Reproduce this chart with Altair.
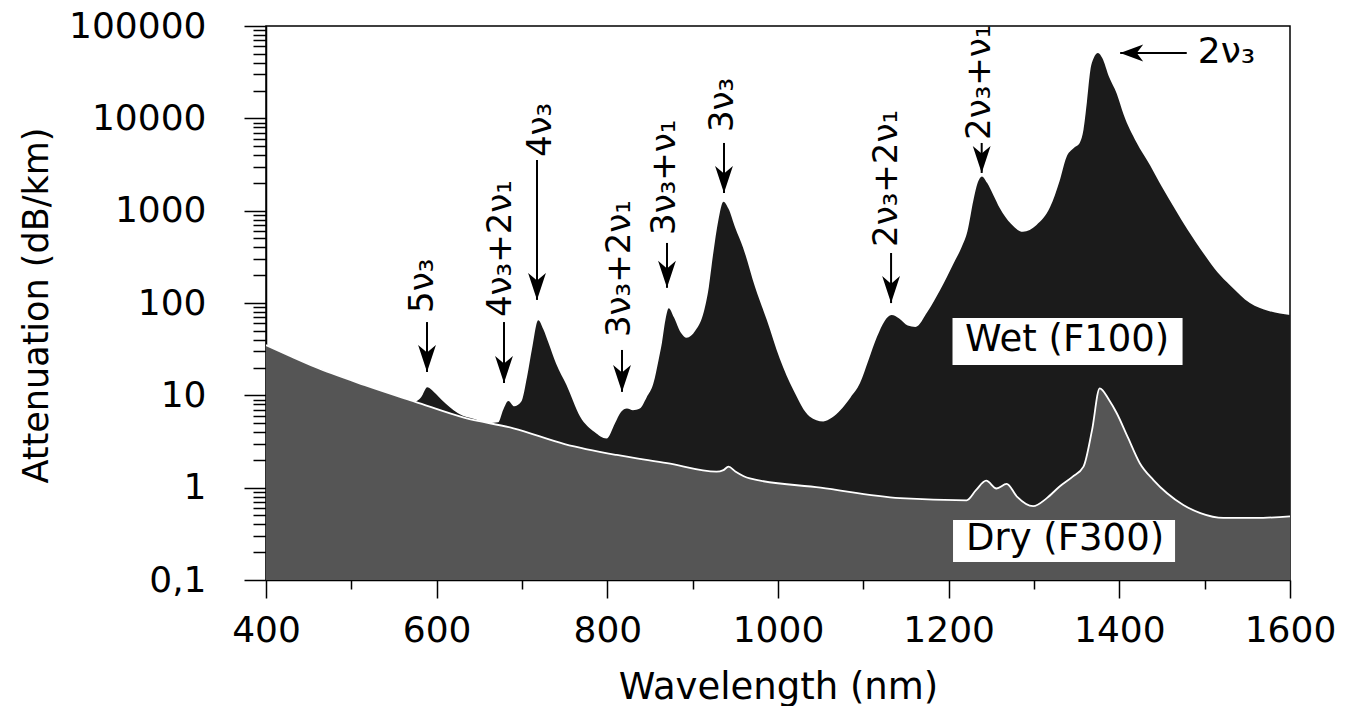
import altair as alt
import pandas as pd

# ---------------- data ----------------
# Dry fibre (F300): wavelength (nm) and attenuation (dB/km)
dry_wl = [400, 430, 457, 516, 575, 633, 690, 750, 811, 870, 928, 936, 942, 950, 967,
          1050, 1143, 1221, 1232, 1244, 1256, 1268, 1280, 1299, 1315, 1330, 1345, 1358,
          1368, 1377, 1388, 1397, 1410, 1424, 1440, 1456, 1475, 1495, 1522, 1560, 1600]
dry_val = [35, 26.2, 20.4, 12.9, 8.5, 5.7, 4.4, 2.97, 2.26, 1.84, 1.49, 1.55, 1.69, 1.5, 1.26,
           1.0, 0.77, 0.73, 0.94, 1.19, 0.98, 1.10, 0.80, 0.63, 0.77, 1.03, 1.31, 1.69,
           4.2, 11.9, 8.9, 6.4, 3.5, 1.84, 1.21, 0.87, 0.65, 0.53, 0.47, 0.47, 0.49]

# Wet fibre (F100)
wet_wl = [400, 457, 516, 575, 582, 589, 597, 606, 625, 645, 662, 672, 678, 684, 691, 699,
          706, 712, 719, 725, 731, 740, 752, 768, 785, 799, 809, 816, 823, 830, 838, 846,
          854, 860, 864, 868, 872, 878, 886, 893, 903, 913, 919, 924, 930, 936, 942, 950,
          959, 973, 987, 1002, 1018, 1037, 1053, 1063, 1073, 1085, 1096, 1106, 1116, 1125,
          1133, 1142, 1152, 1161, 1175, 1190, 1205, 1215, 1222, 1229, 1234, 1239, 1245,
          1252, 1260, 1273, 1287, 1303, 1319, 1330, 1338, 1346, 1354, 1358, 1362, 1366,
          1370, 1375, 1380, 1388, 1397, 1405, 1420, 1436, 1450, 1465, 1480, 1500, 1515,
          1530, 1553, 1575, 1600]
wet_val = [35, 20.4, 12.9, 8.6, 9.6, 12.2, 10.8, 8.9, 6.4, 5.5, 5.0, 5.1, 7.0, 8.7, 7.6, 8.5,
           16, 33, 65, 52, 37, 22, 13, 5.9, 4.0, 3.4, 5.0, 6.6, 7.2, 6.9, 7.2, 9.5,
           13.5, 24, 37, 65, 88, 70, 48, 42, 50, 80, 150, 340, 780, 1250, 1050, 650,
           400, 150, 65, 25, 11.4, 5.9, 5.2, 5.7, 6.9, 9.5, 13.5, 24, 43, 64,
           74, 68, 57, 55, 80, 138, 260, 400, 600, 1300, 2000, 2350, 2000,
           1500, 1060, 720, 590, 700, 1100, 2100, 3800, 4700, 5500, 7500, 15000, 33000,
           45000, 51000, 45000, 28000, 18500, 11000, 5500, 3100, 1800, 1050, 620, 330, 215,
           155, 100, 82, 74]

# Vertical band annotations (rotated text + downward arrow)
ann_labels = ["5ν₃", "4ν₃+2ν₁", "4ν₃", "3ν₃+2ν₁", "3ν₃+ν₁", "3ν₃", "2ν₃+2ν₁", "2ν₃+ν₁"]
ann_text_wl = [584, 675.4, 722.3, 814.9, 867.6, 935.6, 1127.8, 1236.7]
ann_text_val = [78, 70.5, 3810, 42.8, 546, 7110, 405, 5830]
ann_arrow_wl = [588.7, 678.9, 717.6, 817.2, 869.9, 936.7, 1132.5, 1238.7]
ann_arrow_top = [62.2, 62.2, 3540, 31, 447, 5410, 348, 5410]
ann_arrow_tip = [17.9, 13.6, 108, 10.9, 146, 1553, 99.8, 2560]

# Horizontal annotation for the 2ν3 peak
h_label = ["2ν₃"]
h_text_wl = [1492]
h_text_val = [39450]
h_arrow_tail_wl = [1479]
h_arrow_tip_wl = [1401]
h_arrow_val = [51000]

# Curve labels in white boxes
curve_labels = ["Wet (F100)", "Dry (F300)"]
curve_label_wl = [1338.8, 1336.4]
curve_label_val = [39.7, 0.278]
box_wl1 = [1204.5, 1205.1]
box_wl2 = [1474.1, 1465.3]
box_v1 = [68.8, 0.446]
box_v2 = [21.3, 0.157]

# Axis ticks
x_ticks = list(range(400, 1601, 100))
y_ticks = [float(f"{m}e{e}") for e in range(-1, 5) for m in range(1, 10)] + [100000.0]

# ---------------- frames ----------------
dry_df = pd.DataFrame({"wl": dry_wl, "val": dry_val})
wet_df = pd.DataFrame({"wl": wet_wl, "val": wet_val})
ann_df = pd.DataFrame({"label": ann_labels, "twl": ann_text_wl, "tval": ann_text_val,
                       "awl": ann_arrow_wl, "atop": ann_arrow_top, "atip": ann_arrow_tip})
h_df = pd.DataFrame({"label": h_label, "twl": h_text_wl, "tval": h_text_val,
                     "tail": h_arrow_tail_wl, "tip": h_arrow_tip_wl, "aval": h_arrow_val})
lab_df = pd.DataFrame({"label": curve_labels, "lwl": curve_label_wl, "lval": curve_label_val,
                       "b1": box_wl1, "b2": box_wl2, "v1": box_v1, "v2": box_v2})

FONT = "DejaVu Sans"
xscale = alt.Scale(domain=[400, 1600], nice=False, zero=False)
yscale = alt.Scale(type="log", domain=[0.1, 100000], nice=False)

MAJ_Y = "abs(log(datum.value)/LN10 - round(log(datum.value)/LN10)) < 1e-6"
MAJ_X = "datum.value % 200 == 0"

xaxis = alt.Axis(
    values=x_ticks, format="d",
    tickSize={"condition": {"test": MAJ_X, "value": 18}, "value": 9},
    labelExpr="datum.value % 200 == 0 ? format(datum.value, 'd') : ''",
    labelOverlap=False, labelFlush=False, labelPadding=15,
    labelFont=FONT, labelFontSize=36, labelColor="black",
    grid=False, domainColor="black", domainWidth=1.5,
    tickColor="black", tickWidth=1.5,
    title="Wavelength (nm)", titleFont=FONT, titleFontSize=37, titleFontWeight="normal",
    titleColor="black", titleX=512, titleY=118, titleAlign="center",
    titleBaseline="alphabetic",
)
yaxis = alt.Axis(
    values=y_ticks,
    tickSize={"condition": {"test": MAJ_Y, "value": 22}, "value": 13},
    labelExpr=("datum.value == 0.1 ? '0,1' : (" + MAJ_Y +
               " ? format(datum.value, 'd') : '')"),
    labelOverlap=False, labelFlush=False, labelPadding=38,
    labelFont=FONT, labelFontSize=36, labelColor="black",
    grid=False, domainColor="black", domainWidth=1.5,
    tickColor="black", tickWidth=1.5,
    title="Attenuation (dB/km)", titleFont=FONT, titleFontSize=35, titleFontWeight="normal",
    titleColor="black", titleX=-219, titleY=279, titleAngle=270, titleAlign="center",
    titleBaseline="alphabetic",
)


def X(field):
    return alt.X(field, type="quantitative", scale=xscale, axis=xaxis)


def Y(field):
    return alt.Y(field, type="quantitative", scale=yscale, axis=yaxis)


wet = alt.Chart(wet_df).mark_area(color="#1b1b1b", interpolate="monotone", clip=True).encode(
    x=X("wl"), y=Y("val"), y2=alt.Y2Datum(0.1),
)
dry = alt.Chart(dry_df).mark_area(color="#555555", interpolate="monotone", clip=True).encode(
    x=X("wl"), y=Y("val"), y2=alt.Y2Datum(0.1),
)
dry_line = alt.Chart(dry_df).mark_line(color="white", strokeWidth=1.8, interpolate="monotone",
                                       clip=True).encode(
    x=X("wl"), y=Y("val"),
)

ann_text = alt.Chart(ann_df).mark_text(angle=270, align="left", baseline="middle",
                                       font=FONT, fontSize=34, color="black").encode(
    x=X("twl"), y=Y("tval"), text="label:N",
)
ann_shaft = alt.Chart(ann_df).mark_rule(color="black", strokeWidth=2).encode(
    x=X("awl"), y=Y("atop"), y2="atip:Q",
)
ann_head = alt.Chart(ann_df).mark_point(
    shape="M-0.33,-1L0,-0.72L0.33,-1L0,0Z", size=2916, filled=True,
    color="black", opacity=1, strokeWidth=0).encode(
    x=X("awl"), y=Y("atip"),
)

h_text = alt.Chart(h_df).mark_text(align="left", baseline="alphabetic", font=FONT,
                                   fontSize=36, color="black").encode(
    x=X("twl"), y=Y("tval"), text="label:N",
)
h_shaft = alt.Chart(h_df).mark_rule(color="black", strokeWidth=2).encode(
    x=X("tail"), x2="tip:Q", y=Y("aval"),
)
h_head = alt.Chart(h_df).mark_point(
    shape="M1,-0.37L0.72,0L1,0.37L0,0Z", size=2116, filled=True,
    color="black", opacity=1, strokeWidth=0).encode(
    x=X("tip"), y=Y("aval"),
)

boxes = alt.Chart(lab_df).mark_rect(color="white").encode(
    x=X("b1"), x2="b2:Q", y=Y("v1"), y2="v2:Q",
)
box_text = alt.Chart(lab_df).mark_text(align="center", baseline="middle", font=FONT,
                                       fontSize=37, color="black").encode(
    x=X("lwl"), y=Y("lval"), text="label:N",
)

chart = alt.layer(
    wet, dry, dry_line, ann_shaft, ann_head, ann_text, h_shaft, h_head, h_text, boxes, box_text
).properties(
    width=1024, height=554,
    autosize=alt.AutoSizeParams(type="none"),
    padding={"left": 266, "top": 26, "right": 57, "bottom": 126},
    background="white",
).configure_view(
    stroke="black", strokeWidth=1.5
)

chart.save("out.html", embed_options={"renderer": "svg", "actions": False})
